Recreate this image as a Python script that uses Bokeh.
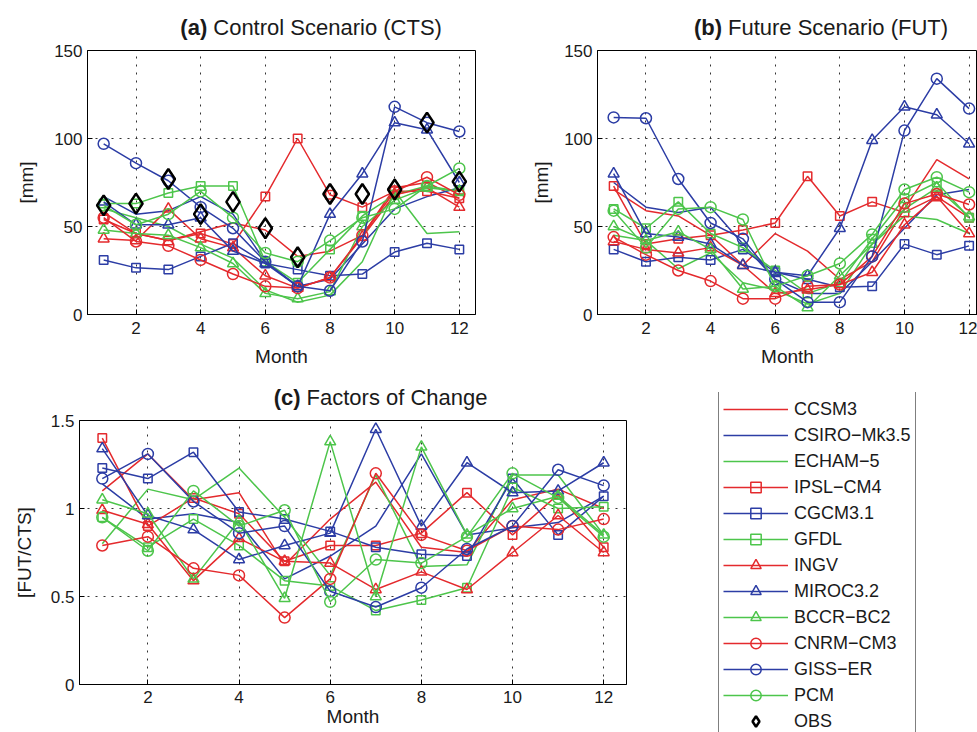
from bokeh.plotting import figure
from bokeh.models import Range1d, FixedTicker, Label, Legend, LegendItem
from bokeh.layouts import row, column
from bokeh.embed import file_html
from bokeh.resources import INLINE

FONT = "Liberation Sans"
TXT = "#1a1a1a"
RED, BLUE, GREEN = "#E42A2D", "#2C3DA5", "#4DC54B"

months = list(range(1, 13))
x_ticks = [2, 4, 6, 8, 10, 12]
mm_ticks = [0, 50, 100, 150]
fac_ticks = [0, 0.5, 1, 1.5]

names = ["CCSM3", "CSIRO\u2212Mk3.5", "ECHAM\u22125", "IPSL\u2212CM4", "CGCM3.1", "GFDL",
         "INGV", "MIROC3.2", "BCCR\u2212BC2", "CNRM\u2212CM3", "GISS\u2212ER", "PCM"]

# (a) Control scenario, mm
cts_ccsm3 = [58, 46, 42, 47, 52, 48, 33, 36, 45, 72, 75, 66]
cts_csiro = [67, 57, 59, 67, 57, 30, 16, 20, 40, 60, 67, 72]
cts_echam = [60, 55, 50, 40, 32, 14, 7, 11, 30, 70, 46, 47]
cts_ipsl = [54, 46, 42, 46, 40, 67, 100, 68, 61, 70, 70, 66]
cts_cgcm = [31, 26.5, 25.5, 33, 40.5, 29, 25.5, 22, 23, 35.5, 40.5, 37]
cts_gfdl = [63, 63, 69, 73, 73, 30, 18, 37, 56, 68, 73, 70]
cts_ingv = [43, 42, 60, 43, 38, 22, 15, 21, 44, 68, 72, 61]
cts_miroc = [64, 51, 51, 55, 36, 29, 16, 57, 80, 109, 105, 75]
cts_bccr = [48, 46, 45, 38, 29, 12, 9, 13, 50, 65, 72, 70]
cts_cnrm = [55, 41.5, 39, 31, 23, 16, 15, 21, 45, 70, 78, 68]
cts_giss = [97, 86, 76, 61, 49, 30, 16, 13.5, 41.5, 118, 109, 104]
cts_pcm = [62, 51, 57, 70, 55, 35, 30, 42, 55, 60, 73, 83]
cts_obs = [62, 63, 77, 57, 64, 49, 32.5, 68.5, 68.5, 71, 109, 75.5]

# (b) Future scenario, mm
fut_ccsm3 = [71, 59, 56, 45, 28, 46, 36, 20, 30, 60, 88, 77]
fut_csiro = [75, 61, 58, 61, 40, 20, 12, 12, 30, 49, 68, 71]
fut_echam = [45, 42, 26, 35, 18, 14, 6, 12, 40, 56, 54, 46]
fut_ipsl = [73, 40, 43, 45, 48, 52, 78.5, 56, 64, 58, 67, 55]
fut_cgcm = [37, 30, 32.5, 31, 37, 24, 20, 15.5, 16, 40, 34, 39]
fut_gfdl = [60, 49, 64, 46, 38, 25, 12, 18, 43, 66, 75, 55]
fut_ingv = [41.5, 37, 35, 38, 28, 12, 14, 17, 24, 51, 67, 46]
fut_miroc = [80, 46, 44, 40, 28, 24, 22, 49, 99, 118, 113.5, 97]
fut_bccr = [50, 42, 47, 37, 14.5, 16, 4, 22, 40, 60, 72, 55.5]
fut_cnrm = [44, 34, 25, 19, 9, 9, 16, 17, 33, 63, 68.5, 62.5]
fut_giss = [112, 111.5, 77, 52, 43, 20, 7, 7, 33, 104.5, 134, 117]
fut_pcm = [59, 38, 60, 61, 54, 16, 22, 29, 45.5, 71, 78, 69.5]

# (c) Factors of change
fac_ccsm3 = [1.10, 1.31, 1.05, 1.09, 0.68, 0.94, 1.15, 0.78, 0.75, 1.05, 1.11, 1.00]
fac_csiro = [1.14, 0.94, 0.97, 0.92, 0.60, 0.73, 0.90, 1.31, 0.85, 0.89, 0.92, 1.07]
fac_echam = [0.80, 1.11, 1.05, 1.23, 0.95, 0.62, 1.19, 0.67, 0.68, 1.19, 1.19, 0.85]
fac_ipsl = [1.40, 0.90, 1.06, 0.97, 0.70, 0.79, 0.79, 0.86, 1.09, 0.85, 1.08, 0.78]
fac_cgcm = [1.23, 1.17, 1.32, 0.98, 0.94, 0.87, 0.78, 0.74, 0.73, 1.17, 0.85, 1.07]
fac_gfdl = [0.95, 0.78, 0.94, 0.79, 0.59, 0.56, 0.42, 0.48, 0.55, 1.12, 1.00, 1.01]
fac_ingv = [0.99, 0.91, 0.59, 0.83, 0.70, 0.69, 0.54, 0.64, 0.54, 0.75, 0.96, 0.75]
fac_miroc = [1.34, 0.96, 0.88, 0.71, 0.79, 0.86, 1.45, 0.90, 1.26, 1.09, 1.10, 1.26]
fac_bccr = [1.05, 0.97, 0.60, 0.93, 0.49, 1.38, 0.50, 1.35, 0.85, 1.00, 1.07, 0.85]
fac_cnrm = [0.79, 0.84, 0.66, 0.62, 0.38, 0.60, 1.20, 0.85, 0.76, 0.90, 0.88, 0.94]
fac_giss = [1.17, 1.31, 1.04, 0.86, 0.90, 0.53, 0.44, 0.55, 0.77, 0.90, 1.22, 1.13]
fac_pcm = [0.95, 0.76, 1.10, 0.90, 0.99, 0.47, 0.71, 0.69, 0.84, 1.20, 1.06, 0.84]

cts = [cts_ccsm3, cts_csiro, cts_echam, cts_ipsl, cts_cgcm, cts_gfdl,
       cts_ingv, cts_miroc, cts_bccr, cts_cnrm, cts_giss, cts_pcm]
fut = [fut_ccsm3, fut_csiro, fut_echam, fut_ipsl, fut_cgcm, fut_gfdl,
       fut_ingv, fut_miroc, fut_bccr, fut_cnrm, fut_giss, fut_pcm]
fac = [fac_ccsm3, fac_csiro, fac_echam, fac_ipsl, fac_cgcm, fac_gfdl,
       fac_ingv, fac_miroc, fac_bccr, fac_cnrm, fac_giss, fac_pcm]

colors = [RED, BLUE, GREEN] * 4
markers = [None] * 3 + ["square"] * 3 + ["triangle"] * 3 + ["circle"] * 3
msize = {"square": 8.5, "triangle": 11, "circle": 11}


def make_fig(width, height, bl, br, bt, bb, x_end, y_end, yticks, ylabel,
             ystand, xl_stand, xlab_stand, overrides=None):
    p = figure(width=width, height=height, x_range=Range1d(0.5, x_end),
               y_range=Range1d(0, y_end), output_backend="svg",
               toolbar_location=None, min_border_left=bl, min_border_right=br,
               min_border_top=bt, min_border_bottom=bb)
    p.background_fill_color = "white"
    p.border_fill_color = "white"
    p.outline_line_color = "black"
    p.outline_line_width = 1
    p.xaxis.ticker = FixedTicker(ticks=x_ticks)
    p.yaxis.ticker = FixedTicker(ticks=yticks)
    if overrides:
        p.yaxis.major_label_overrides = overrides
    for ax in [p.xaxis[0], p.yaxis[0]]:
        ax.axis_line_color = "black"
        ax.major_tick_line_color = "black"
        ax.minor_tick_line_color = None
        ax.major_tick_in = 5
        ax.major_tick_out = 0
        ax.major_label_text_font = FONT
        ax.major_label_text_font_size = "17px"
        ax.major_label_text_color = TXT
        ax.axis_label_text_font = FONT
        ax.axis_label_text_font_size = "19px"
        ax.axis_label_text_font_style = "normal"
        ax.axis_label_text_color = TXT
    p.xaxis.axis_label = "Month"
    p.xaxis.major_label_standoff = xl_stand
    p.xaxis.axis_label_standoff = xlab_stand
    p.yaxis.axis_label = ylabel
    p.yaxis.major_label_standoff = 5
    p.yaxis.axis_label_standoff = ystand
    for g in [p.xgrid[0], p.ygrid[0]]:
        g.grid_line_color = "#333333"
        g.grid_line_dash = "2 6"
        g.grid_line_width = 1
    return p


def draw_series(p, data):
    out = []
    for vals, c, m in zip(data, colors, markers):
        rs = [p.line(months, vals, line_color=c, line_width=1.5)]
        if m:
            rs.append(p.scatter(months, vals, marker=m, size=msize[m], line_color=c,
                                fill_color=None, line_width=1.5))
        out.append(rs)
    return out


def add_title(p, x, y, dy, tag, text):
    p.add_layout(Label(x=x, y=y, y_offset=dy, text=tag, text_font=FONT,
                       text_font_size="22px", text_font_style="bold", text_color=TXT,
                       text_align="right", text_baseline="alphabetic"), "above")
    p.add_layout(Label(x=x, y=y, x_offset=6, y_offset=dy, text=text, text_font=FONT,
                       text_font_size="22px", text_color=TXT,
                       text_align="left", text_baseline="alphabetic"), "above")


# (a)
pa = make_fig(500, 370, 87, 25, 46, 56, 12.5, 150, mm_ticks, "[mm]", 14, 7, 9)
draw_series(pa, cts)
pa.scatter(months, cts_obs, marker="diamond", size=20, line_color="black",
           fill_color=None, line_width=2.5)
add_title(pa, 4.204, 150, 23, "(a)", "Control Scenario (CTS)")

# (b)
pb = make_fig(477, 370, 97, 0, 46, 56, 12.26, 150, mm_ticks, "[mm]", 9, 7, 9)
draw_series(pb, fut)
add_title(pb, 4.353, 150, 23, "(b)", "Future Scenario (FUT)")

# (c)
pc = make_fig(700, 362, 79, 74, 49, 48, 12.5, 1.5, fac_ticks, "[FUT/CTS]", 13, 6, 0,
              overrides={0: "0", 0.5: "0.5", 1: "1", 1.5: "1.5"})
draw_series(pc, fac)
add_title(pc, 5.349, 1.5, 23, "(c)", "Factors of Change")

# legend panel: its series lie outside its (empty) ranges, only the legend shows
pl = figure(width=277, height=362, x_range=Range1d(-30, -20), y_range=Range1d(-30, -20),
            output_backend="svg", toolbar_location=None, x_axis_type=None, y_axis_type=None,
            min_border_left=17, min_border_right=61, min_border_top=22, min_border_bottom=0)
pl.background_fill_color = "white"
pl.border_fill_color = "white"
pl.outline_line_color = None
leg_rs = draw_series(pl, cts)
obs_r = pl.scatter(months, cts_obs, marker="diamond", size=20, line_color="black",
                   fill_color=None, line_width=2.5)
items = [LegendItem(label=n, renderers=rs) for n, rs in zip(names, leg_rs)]
items.append(LegendItem(label="OBS", renderers=[obs_r]))
legend = Legend(items=items, location=(1, -7), padding=4, margin=0, spacing=0,
                glyph_width=65, glyph_height=26, label_height=26, label_standoff=6,
                label_text_font=FONT, label_text_font_size="18px", label_text_color=TXT,
                background_fill_color="white", border_line_color="black",
                border_line_width=1)
pl.add_layout(legend)

layout = column(row(pa, pb), row(pc, column(pl)))
open("out.html", "w").write(file_html(layout, INLINE))
